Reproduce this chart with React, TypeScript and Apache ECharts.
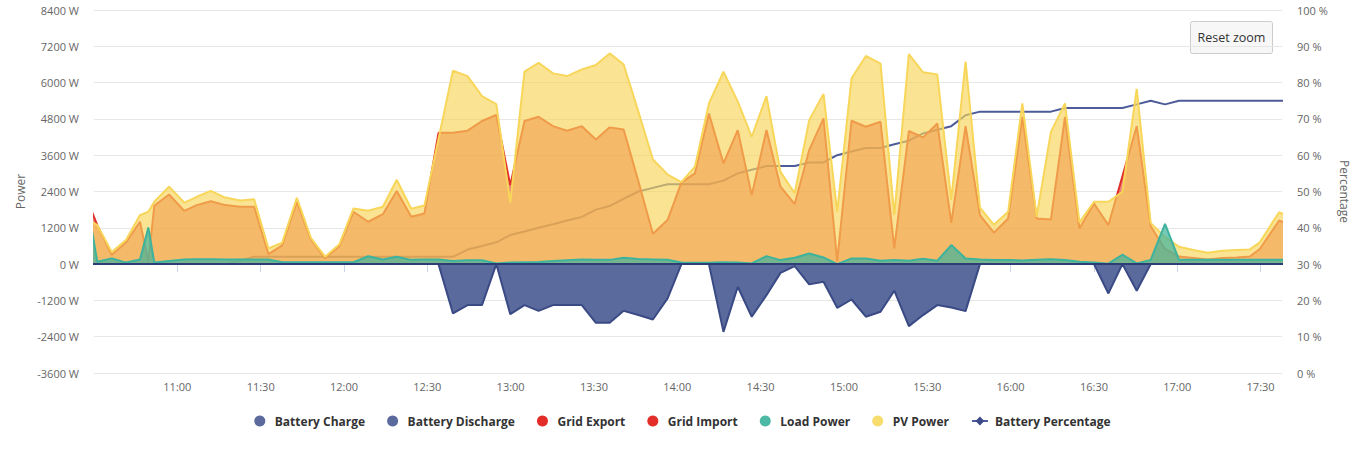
import { useEffect, useRef } from 'react';
import * as echarts from 'echarts';

// Sample times (HH:MM:SS)
const times = [
  '10:29:17', '10:31:11', '10:36:23', '10:41:32', '10:46:34', '10:49:34', '10:51:43', '10:57:01', '11:02:32', '11:07:00',
  '11:12:03', '11:17:12', '11:22:36', '11:27:39', '11:32:48', '11:37:44', '11:43:02', '11:48:04', '11:53:13', '11:58:22',
  '12:03:25', '12:08:43', '12:14:00', '12:18:59', '12:24:12', '12:28:58', '12:34:02', '12:39:14', '12:44:29', '12:49:41',
  '12:54:50', '12:59:52', '13:04:59', '13:10:04', '13:15:15', '13:20:18', '13:25:38', '13:30:41', '13:35:39', '13:40:41',
  '13:45:59', '13:51:13', '13:56:30', '14:01:29', '14:06:21', '14:11:23', '14:16:37', '14:21:46', '14:26:48', '14:32:06',
  '14:37:09', '14:42:16', '14:47:29', '14:52:38', '14:57:34', '15:02:44', '15:07:53', '15:13:10', '15:18:07', '15:23:22',
  '15:28:29', '15:33:36', '15:38:38', '15:43:47', '15:48:57', '15:53:59', '15:59:07', '16:04:13', '16:09:22', '16:14:31',
  '16:19:34', '16:24:46', '16:30:01', '16:35:12', '16:40:15', '16:45:24', '16:50:26', '16:55:35', '17:00:38', '17:05:50',
  '17:10:59', '17:16:10', '17:21:13', '17:26:07', '17:29:43', '17:36:40', '17:41:36',
];

const pvPower = [
  1400, 1290, 400, 800, 1620, 1730, 2060, 2560, 2030, 2225,
  2420, 2200, 2100, 2140, 520, 705, 2190, 870, 245, 660,
  1840, 1765, 1895, 2790, 1830, 1940, 4140, 6390, 6215, 5555,
  5290, 2030, 6360, 6655, 6305, 6215, 6435, 6580, 6965, 6600,
  5040, 3460, 2960, 2710, 3220, 5310, 6360, 5370, 4210, 5550,
  3050, 2340, 4760, 5620, 1730, 6140, 6880, 6630, 1620, 6940,
  6340, 6270, 2120, 6690, 1870, 1300, 1730, 5310, 1560, 4370,
  5310, 1380, 2060, 2060, 2390, 5790, 1355, 900, 573, 463,
  375, 441, 463, 485, 720, 1715, 1500,
];

const gridExport = [
  1720, 1290, 300, 720, 1400, 80, 1930, 2300, 1760, 1950,
  2080, 1950, 1895, 1895, 330, 620, 2060, 815, 190, 595,
  1730, 1400, 1650, 2420, 1565, 1675, 4340, 4340, 4410, 4730,
  4930, 2610, 4730, 4870, 4560, 4410, 4560, 4120, 4520, 4450,
  2740, 1000, 1455, 2700, 3000, 4980, 3330, 4430, 2280, 4430,
  2560, 1985, 3770, 4815, 100, 4740, 4540, 4705, 520, 4400,
  4190, 4650, 1365, 4560, 1620, 1040, 1510, 4870, 1510, 1477,
  4870, 1180, 2005, 1290, 2900, 4560, 1250, 500, 250, 200,
  150, 200, 220, 250, 500, 1440, 1250,
];

const gridImport = times.map(() => 0);

const loadPower = [
  1100, 80, 190, 50, 150, 1210, 50, 100, 150, 160,
  160, 150, 150, 150, 150, 60, 60, 60, 60, 60,
  60, 260, 150, 240, 140, 150, 150, 100, 130, 130,
  20, 50, 60, 70, 100, 130, 150, 140, 140, 210,
  165, 155, 145, 50, 44, 44, 60, 55, 20, 264,
  132, 209, 353, 220, 0, 187, 187, 110, 132, 110,
  176, 110, 628, 187, 150, 132, 132, 120, 140, 160,
  132, 77, 50, 15, 310, 22, 140, 1330, 140, 140,
  140, 140, 140, 140, 140, 140, 140,
];

const batteryCharge = [
  0, 0, 0, 0, 0, 0, 0, 0, 0, 0,
  0, 0, 0, 0, 0, 0, 0, 0, 0, 0,
  0, 0, 0, 0, 0, 0, 0, -1630, -1355, -1355,
  0, -1655, -1355, -1545, -1355, -1355, -1355, -1940, -1940, -1545,
  -1685, -1830, -1135, 0, 0, 0, -2240, -750, -1740, -1025,
  -290, -65, -670, -585, -1445, -1170, -1740, -1575, -880, -2050,
  -1685, -1355, -1435, -1555, 0, 0, 0, 0, 0, 0,
  0, 0, 0, -970, 0, -880, 0, 0, 0, 0,
  0, 0, 0, 0, 0, 0, 0,
];

const batteryDischarge = times.map(() => 0);

const batteryPercentage = [
  30, 30, 30, 30, 30, 30, 30, 30, 30, 30,
  30, 30, 31, 32, 32, 32, 32, 32, 32, 32,
  32, 32, 32, 32, 32, 32, 32, 32, 34, 35,
  36, 38, 39, 40, 41, 42, 43, 45, 46, 48,
  50, 51, 52, 52, 52, 52, 53, 55, 56, 57,
  57, 57, 58, 58, 60, 61, 62, 62, 63, 64,
  66, 67, 68, 71, 72, 72, 72, 72, 72, 72,
  73, 73, 73, 73, 73, 74, 75, 74, 75, 75,
  75, 75, 75, 75, 75, 75, 75,
];

const powerTicks = { min: -3600, max: 8400, step: 1200 };
const percentTicks = { min: 0, max: 100, step: 10 };
const timeRange = { min: 630, max: 1057.7, step: 30 }; // minutes since midnight

const FONT = "'Open Sans', 'Noto Sans', sans-serif";

function toMinutes(s: string): number {
  const [h, m, sec] = s.split(':').map(Number);
  return h * 60 + m + sec / 60;
}
function pairs(values: number[]) {
  return times.map((t, i) => [toMinutes(t), values[i]]);
}
function fmtTime(v: number): string {
  const h = Math.floor(v / 60);
  const m = Math.round(v - h * 60);
  return `${h}:${String(m).padStart(2, '0')}`;
}

function areaSeries(name: string, values: number[], line: string, fill: string, fillOpacity: number, legendColor: string, z: number) {
  return {
    name,
    type: 'line',
    z,
    data: pairs(values),
    symbol: 'none',
    showSymbol: false,
    color: legendColor,
    itemStyle: { color: legendColor },
    lineStyle: { color: line, width: 2 },
    areaStyle: { color: fill, opacity: fillOpacity },
    emphasis: { disabled: true },
    clip: true,
    silent: true,
  };
}

export default function App() {
  const ref = useRef<HTMLDivElement>(null);

  useEffect(() => {
    if (!ref.current) return;
    const chart = echarts.init(ref.current, undefined, { renderer: 'svg' });

    const option: any = {
      animation: false,
      textStyle: { fontFamily: FONT },
      grid: { left: 94, top: 10, width: 1188, height: 363, containLabel: false },
      legend: {
        top: 410,
        left: 'center',
        itemWidth: 16,
        itemHeight: 11,
        itemGap: 22,
        selectedMode: false,
        textStyle: { fontFamily: FONT, fontSize: 12, fontWeight: 'bold', color: '#333333', padding: [0, 0, 0, 2] },
        data: [
          { name: 'Battery Charge', icon: 'circle' },
          { name: 'Battery Discharge', icon: 'circle' },
          { name: 'Grid Export', icon: 'circle' },
          { name: 'Grid Import', icon: 'circle' },
          { name: 'Load Power', icon: 'circle' },
          { name: 'PV Power', icon: 'circle' },
          { name: 'Battery Percentage' },
        ],
      },
      xAxis: {
        type: 'value',
        min: timeRange.min,
        max: timeRange.max,
        interval: timeRange.step,
        axisLine: { show: true, lineStyle: { color: '#ccd6eb', width: 1 } },
        axisTick: { show: true, length: 8, lineStyle: { color: '#ccd6eb' } },
        splitLine: { show: false },
        axisLabel: {
          showMinLabel: false,
          showMaxLabel: false,
          margin: 8,
          color: '#666666',
          fontSize: 11,
          fontFamily: FONT,
          formatter: (v: number) => fmtTime(v),
        },
      },
      yAxis: [
        {
          type: 'value',
          min: powerTicks.min,
          max: powerTicks.max,
          interval: powerTicks.step,
          name: 'Power',
          nameLocation: 'middle',
          nameGap: 65,
          nameRotate: 90,
          nameTextStyle: { color: '#666666', fontSize: 12, fontFamily: FONT },
          axisLine: { show: false },
          axisTick: { show: false },
          splitLine: { show: true, lineStyle: { color: '#e6e6e6', width: 1 } },
          axisLabel: { margin: 15, color: '#666666', fontSize: 11, fontFamily: FONT, formatter: (v: number) => `${v} W` },
        },
        {
          type: 'value',
          min: percentTicks.min,
          max: percentTicks.max,
          interval: percentTicks.step,
          position: 'right',
          name: 'Percentage',
          nameLocation: 'middle',
          nameGap: 53,
          nameRotate: -90,
          nameTextStyle: { color: '#666666', fontSize: 12, fontFamily: FONT },
          axisLine: { show: false },
          axisTick: { show: false },
          splitLine: { show: false },
          axisLabel: { margin: 15, color: '#666666', fontSize: 11, fontFamily: FONT, formatter: (v: number) => `${v} %` },
        },
      ],
      series: [
        {
          name: 'Battery Percentage',
          type: 'line',
          z: 2,
          yAxisIndex: 1,
          data: pairs(batteryPercentage),
          symbol: 'diamond',
          symbolSize: 8,
          showSymbol: false,
          color: '#3c4a8a',
          itemStyle: { color: '#3c4a8a' },
          lineStyle: { color: '#4d5c99', width: 2 },
          emphasis: { disabled: true },
          silent: true,
          clip: true,
        },
        areaSeries('Grid Import', gridImport, '#e0302a', '#e0302a', 0.585, '#e22d28', 3),
        areaSeries('Grid Export', gridExport, '#e0302a', '#e0302a', 0.585, '#e22d28', 4),
        areaSeries('PV Power', pvPower, '#f7d65a', '#f7d65a', 0.65, '#f8dc6e', 5),
        areaSeries('Load Power', loadPower, '#3db39e', '#3db39e', 0.7, '#4db9a4', 6),
        areaSeries('Battery Charge', batteryCharge, '#3a4a85', '#5a6a9c', 1, '#5a6a9c', 7),
        areaSeries('Battery Discharge', batteryDischarge, '#2e3d75', '#5a6a9c', 1, '#5a6a9c', 8),
      ],
      graphic: [
        {
          type: 'group',
          left: 1190,
          top: 21,
          z: 20,
          children: [
            {
              type: 'rect',
              shape: { x: 0, y: 0, width: 82, height: 32, r: 2 },
              style: { fill: '#f7f7f7', stroke: '#cccccc', lineWidth: 1 },
            },
            {
              type: 'text',
              x: 41,
              y: 16,
              style: {
                text: 'Reset zoom',
                fill: '#333333',
                fontSize: 12.5,
                fontFamily: FONT,
                align: 'center',
                verticalAlign: 'middle',
              },
            },
          ],
        },
      ],
    };

    chart.setOption(option);
    return () => chart.dispose();
  }, []);

  return (
    <div
      ref={ref}
      style={{ position: 'absolute', left: 0, top: 0, width: 1365, height: 451, background: '#ffffff' }}
    />
  );
}
